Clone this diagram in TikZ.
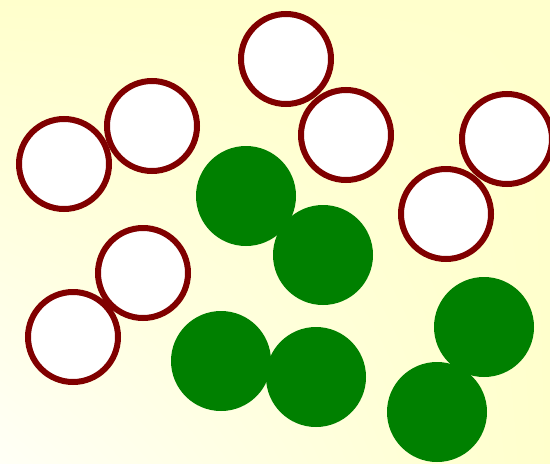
\documentclass[tikz,border=0pt]{standalone}
\usepackage{xcolor}
\usetikzlibrary{shadings}
\definecolor{bgyellow}{RGB}{255,255,204}
\definecolor{bgwhite}{RGB}{255,255,246}
\definecolor{ringred}{RGB}{128,0,0}
\definecolor{dotgreen}{RGB}{0,128,0}

\begin{document}
\begin{tikzpicture}[x=0.02cm,y=-0.02cm]

% background
\shade[upper left=bgyellow,upper right=bgyellow,lower left=bgwhite,lower right=bgyellow]
  (0,0) rectangle (550,463);
\useasboundingbox (0,0) rectangle (550,463);

% white rings
\foreach \x/\y in {64/164,152/126,286/59,346/135,507/139,446/214,143/273,73/337}
  \draw[ringred,line width=0.12cm,fill=white] (\x,\y) circle (45);

% green dots
\foreach \x/\y in {246/196,323/255,221/361,316/377,484/327,437/412}
  \fill[dotgreen] (\x,\y) circle (50);

\end{tikzpicture}
\end{document}
